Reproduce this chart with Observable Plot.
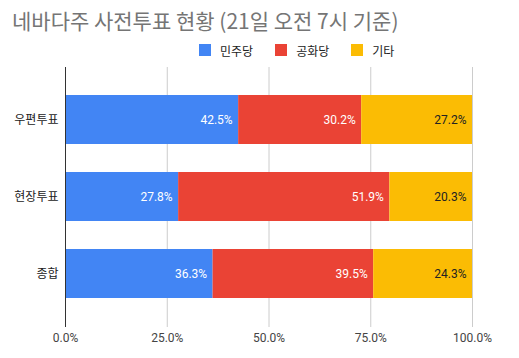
<!DOCTYPE html>
<html>
<head>
<meta charset="utf-8">
<script src="https://cdn.jsdelivr.net/npm/d3@7"></script>
<script src="https://cdn.jsdelivr.net/npm/@observablehq/plot@0.6"></script>
<style>
  html, body { margin: 0; padding: 0; background: #fff; }
  #wrap { position: relative; width: 519px; height: 358px; font-family: Roboto, "Noto Sans CJK KR", sans-serif; }
  #title { position: absolute; left: 12px; top: 7px; font-size: 21px; line-height: 27px; color: #757575; font-family: "Noto Sans CJK KR", Roboto, sans-serif; white-space: nowrap; }
  #legend { position: absolute; left: 199px; top: 42px; height: 16px; display: flex; align-items: center; font-size: 12px; color: #222; font-family: "Noto Sans CJK KR", Roboto, sans-serif; }
  .item { display: flex; align-items: center; margin-right: 22px; }
  .sw { width: 12px; height: 12px; margin-right: 9px; }
  #chart { position: absolute; left: 0; top: 0; }
</style>
</head>
<body>
<div id="wrap">
  <div id="chart"></div>
  <div id="title"></div>
  <div id="legend"></div>
</div>
<script>
const titleText = "네바다주 사전투표 현황 (21일 오전 7시 기준)";
const categories = ["우편투표", "현장투표", "종합"];
const parties = ["민주당", "공화당", "기타"];
const colors = ["#4285f4", "#ea4335", "#fbbc04"];
const demValues = [42.5, 27.8, 36.3];
const repValues = [30.2, 51.9, 39.5];
const othValues = [27.2, 20.3, 24.3];
const xTicks = [0, 0.25, 0.5, 0.75, 1];

const series = [demValues, repValues, othValues];
const data = [];
categories.forEach((c, i) => {
  parties.forEach((p, j) => {
    data.push({cat: c, party: p, pi: j, value: series[j][i]});
  });
});

document.getElementById("title").textContent = titleText;
const legend = document.getElementById("legend");
parties.forEach((p, j) => {
  const it = document.createElement("div");
  it.className = "item";
  const sw = document.createElement("div");
  sw.className = "sw";
  sw.style.background = colors[j];
  const t = document.createElement("span");
  t.textContent = p;
  it.appendChild(sw); it.appendChild(t);
  legend.appendChild(it);
});

const chart = Plot.plot({
  width: 519,
  height: 358,
  marginTop: 67,
  marginBottom: 31,
  marginLeft: 65,
  marginRight: 47,
  style: {fontFamily: "Roboto, 'Noto Sans CJK KR', sans-serif", background: "transparent"},
  x: {domain: [0, 1]},
  y: {domain: categories, padding: 0.36},
  color: {domain: parties, range: colors},
  marks: [
    Plot.gridX(xTicks, {stroke: "#cccccc", strokeOpacity: 1}),
    Plot.barX(data, Plot.stackX({x: "value", y: "cat", z: "party", fill: "party", offset: "normalize"})),
    Plot.ruleX([0], {stroke: "#333"}),
    Plot.text(data, Plot.stackX2({
      x: "value", y: "cat", z: "party", offset: "normalize",
      text: d => d.value.toFixed(1) + "%",
      textAnchor: "end", dx: -6,
      fill: d => d.pi < 2 ? "#ffffff" : "#222222",
      fontSize: 12,
      fontWeight: d => d.pi < 2 ? 500 : 400
    })),
    Plot.axisX(xTicks, {anchor: "bottom", tickSize: 0, tickPadding: 6, tickFormat: d3.format(".1%"), label: null, fontSize: 12, fill: "#444"}),
    Plot.axisY({anchor: "left", tickSize: 0, tickPadding: 7, label: null, fontSize: 12, fill: "#222", fontFamily: "'Noto Sans CJK KR', sans-serif"})
  ]
});
document.getElementById("chart").appendChild(chart);
</script>
</body>
</html>
